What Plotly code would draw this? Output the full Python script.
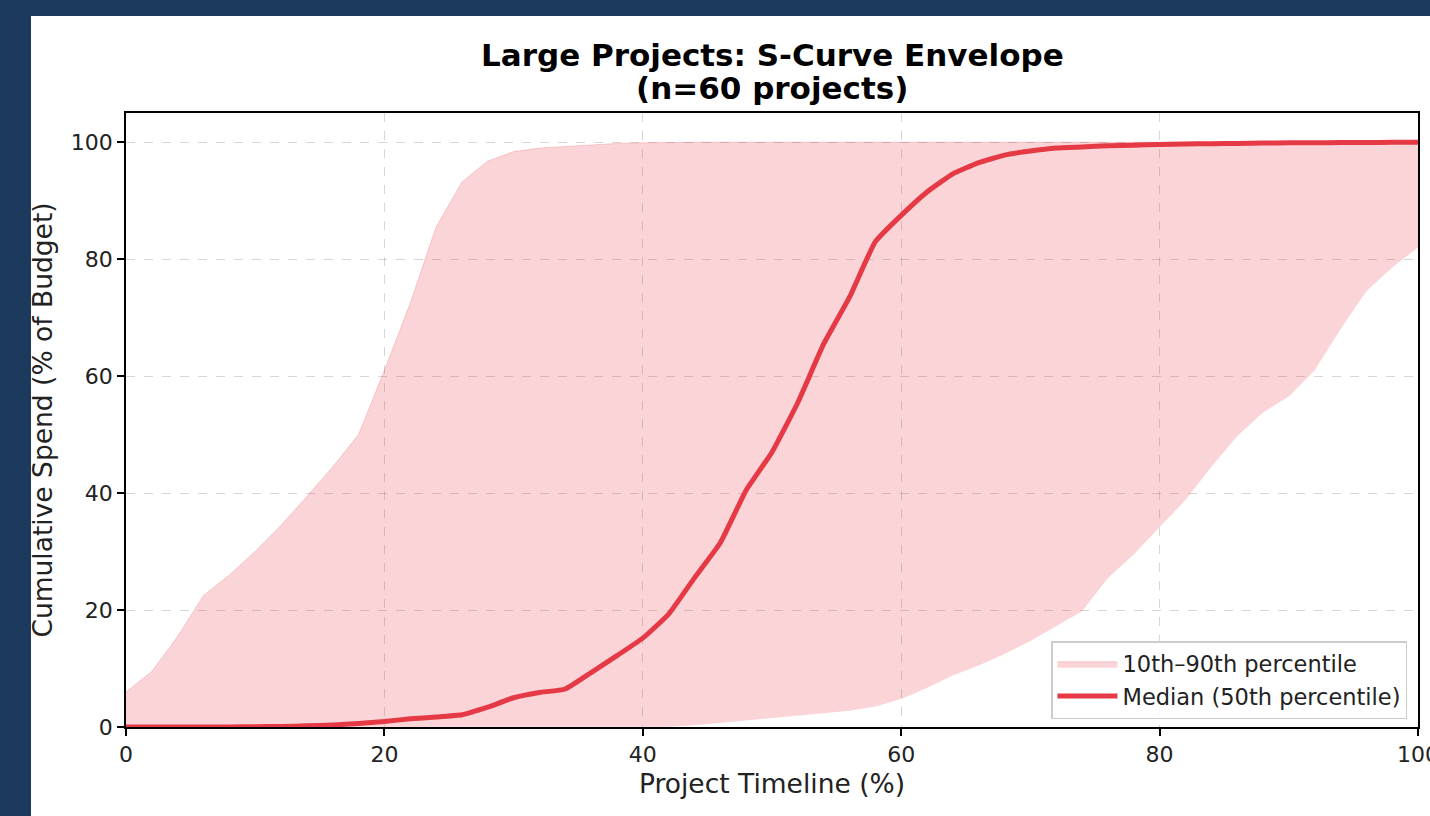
import plotly.graph_objects as go

# ---- data ----
timeline = list(range(0, 101, 2))

p10 = [0, 0, 0, 0, 0, 0, 0, 0, 0, 0,
       0, 0, 0, 0, 0, 0, 0, 0, 0, 0,
       0, 0.05, 0.3, 0.7, 1.1, 1.6, 1.9, 2.3, 2.8, 3.5,
       4.8, 6.7, 8.8, 10.5, 12.5, 14.7, 17.2, 19.8, 25.5, 29.5,
       34.2, 38.8, 44.5, 49.7, 53.8, 56.5, 61.0, 68.0, 74.5, 78.6,
       82.0]

p50 = [0, 0, 0, 0, 0, 0.05, 0.1, 0.2, 0.35, 0.6,
       0.95, 1.4, 1.7, 2.1, 3.4, 5.0, 5.9, 6.5, 9.3, 12.2,
       15.2, 19.3, 25.5, 31.5, 40.5, 47.0, 55.5, 65.5, 73.5, 83.0,
       87.5, 91.5, 94.6, 96.5, 97.8, 98.5, 99.0, 99.2, 99.4, 99.5,
       99.6, 99.7, 99.75, 99.8, 99.85, 99.9, 99.9, 99.95, 99.95, 100,
       100]

p90 = [6.0, 9.5, 15.5, 22.5, 26.0, 30.0, 34.5, 39.4, 44.5, 50.0,
       61.0, 72.5, 85.5, 93.2, 96.8, 98.4, 99.0, 99.3, 99.6, 99.8,
       99.9, 100, 100, 100, 100, 100, 100, 100, 100, 100,
       100, 100, 100, 100, 100, 100, 100, 100, 100, 100,
       100, 100, 100, 100, 100, 100, 100, 100, 100, 100,
       100]

x_ticks = [0, 20, 40, 60, 80, 100]
y_ticks = [0, 20, 40, 60, 80, 100]

title_line1 = "Large Projects: S-Curve Envelope"
title_line2 = "(n=60 projects)"

RED = "rgb(230,57,70)"
FILL = "rgba(230,57,70,0.22)"
FONT = "DejaVu Sans"

fig = go.Figure()
fig.add_trace(go.Scatter(x=timeline, y=p10, mode="lines", line=dict(width=0, color=FILL),
                         showlegend=False, hoverinfo="skip"))
fig.add_trace(go.Scatter(x=timeline, y=p90, mode="lines", line=dict(width=0.8, color="rgba(230,57,70,0.25)"),
                         fill="tonexty", fillcolor=FILL, name="10th–90th percentile"))
fig.add_trace(go.Scatter(x=timeline, y=p50, mode="lines", line=dict(width=5, color=RED, shape="spline", smoothing=0.4),
                         name="Median (50th percentile)"))

W, H = 1430, 816
L, R, T, B = 126, 12, 113, 89
pw, ph = W - L - R, H - T - B

def px_x(p):
    return (p - L) / pw

def px_y(p):
    return (H - B - p) / ph

fig.add_shape(type="rect", xref="paper", yref="paper",
              x0=px_x(31), x1=px_x(1440), y0=px_y(830), y1=px_y(16),
              fillcolor="white", line=dict(width=0), layer="below")

fig.add_annotation(text="<b>" + title_line1 + "</b>", xref="paper", yref="paper",
                   x=0.5, y=px_y(55), xanchor="center", yanchor="middle", showarrow=False,
                   font=dict(family=FONT, size=31, color="black"))
fig.add_annotation(text="<b>" + title_line2 + "</b>", xref="paper", yref="paper",
                   x=0.5, y=px_y(88), xanchor="center", yanchor="middle", showarrow=False,
                   font=dict(family=FONT, size=31, color="black"))

axis_common = dict(showline=True, linecolor="black", linewidth=1.8, mirror=True,
                   ticks="outside", ticklen=7, tickwidth=1.8, tickcolor="black",
                   showgrid=True, gridcolor="rgba(0,0,0,0.16)", gridwidth=1.2, griddash="dash",
                   zeroline=False, ticklabeloverflow="allow",
                   tickfont=dict(family=FONT, size=22, color="#222"))

fig.update_xaxes(range=[0, 100], tickvals=x_ticks,
                 title=dict(text="Project Timeline (%)", font=dict(family=FONT, size=26.5, color="#222"), standoff=8),
                 **axis_common)
fig.update_yaxes(range=[0, 105], tickvals=y_ticks,
                 title=dict(text="Cumulative Spend (% of Budget)", font=dict(family=FONT, size=26.5, color="#222"), standoff=10),
                 **axis_common)

fig.update_layout(
    width=W, height=H,
    margin=dict(l=L, r=R, t=T, b=B, autoexpand=False),
    paper_bgcolor="#1b3a5e", plot_bgcolor="white",
    font=dict(family=FONT, color="#222"),
    legend=dict(x=px_x(1407), y=px_y(719), xanchor="right", yanchor="bottom",
                traceorder="normal",
                bgcolor="rgba(255,255,255,0.85)", bordercolor="#cccccc", borderwidth=1.5,
                font=dict(family=FONT, size=22.5, color="#222"), itemwidth=60),
    showlegend=True,
)

fig.write_html("out.html", config={"displayModeBar": False},
               post_script="document.body.style.margin='0';document.body.style.overflow='hidden';")
